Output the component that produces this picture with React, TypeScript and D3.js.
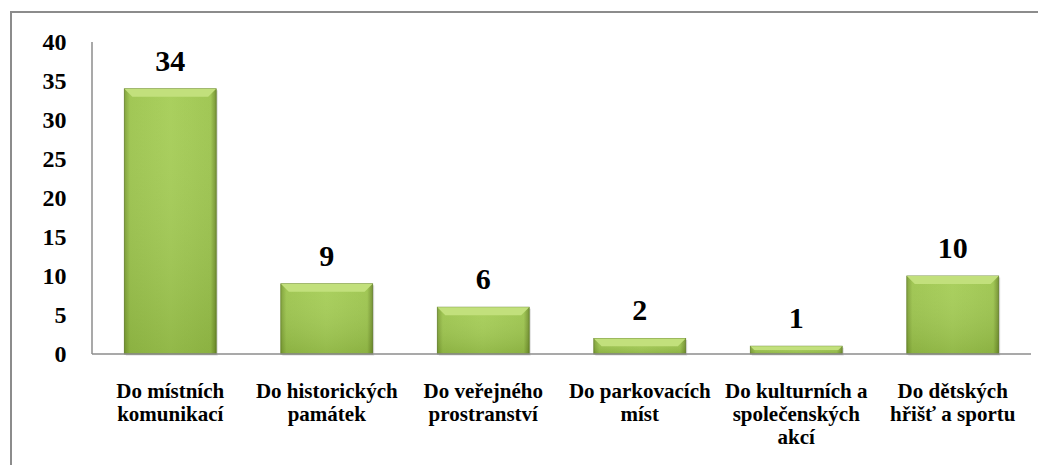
import React from 'react';
import * as d3 from 'd3';

const categories: string[][] = [
  ['Do místních', 'komunikací'],
  ['Do historických', 'památek'],
  ['Do veřejného', 'prostranství'],
  ['Do parkovacích', 'míst'],
  ['Do kulturních a', 'společenských', 'akcí'],
  ['Do dětských', 'hřišť a sportu'],
];
const values: number[] = [34, 9, 6, 2, 1, 10];
const yTicks: number[] = [0, 5, 10, 15, 20, 25, 30, 35, 40];

const W = 1046;
const H = 473;
const left = 92, right = 1031, top = 42, bottom = 354;
const font = 'Liberation Serif';

const x = d3.scaleBand<number>()
  .domain(d3.range(values.length))
  .range([left, right])
  .paddingInner(0.413)
  .paddingOuter(0.2065);
const y = d3.scaleLinear().domain([0, 40]).range([bottom, top]);
const bw = x.bandwidth();

const txt = { fontFamily: font, fontWeight: 'bold' as const };

const App = () => (
  <svg width={W} height={H} style={{ display: 'block', margin: '-8px' }}>
    <defs>
      <linearGradient id="barGrad" x1="0" x2="1" y1="0" y2="0">
        <stop offset="0%" stopColor="#7d9f34" />
        <stop offset="6%" stopColor="#9cc44c" />
        <stop offset="50%" stopColor="#a5cd55" />
        <stop offset="94%" stopColor="#9cc44c" />
        <stop offset="100%" stopColor="#718f2c" />
      </linearGradient>
      <linearGradient id="barShade" x1="0" x2="0" y1="0" y2="1">
        <stop offset="0%" stopColor="#fff" stopOpacity={0.05} />
        <stop offset="100%" stopColor="#3d5a10" stopOpacity={0.18} />
      </linearGradient>
    </defs>

    {/* outer frame, cropped on right and bottom */}
    <rect x={11} y={12} width={1040} height={470} fill="#fff" stroke="#8c8c8c" strokeWidth={2} />

    <line x1={left} x2={left} y1={top} y2={bottom} stroke="#8c8c8c" strokeWidth={1.5} />
    {yTicks.map(t => (
      <text key={t} x={66.5} y={y(t)} dy="0.35em" textAnchor="end" fontSize={24} fill="#000" style={txt}>
        {t}
      </text>
    ))}

    {values.map((v, i) => {
      const bx = x(i) as number;
      const by = y(v);
      const h = bottom - by;
      const b = Math.min(8, h / 2);
      return (
        <g key={i} transform={`translate(${bx},${by})`}>
          <rect x={1.5} y={1.5} width={bw} height={h} fill="#000" opacity={0.15} />
          <rect width={bw} height={h} fill="url(#barGrad)" stroke="#5f7d24" strokeWidth={0.8} />
          <rect width={bw} height={h} fill="url(#barShade)" />
          <path d={`M0,0 L${bw},0 L${bw - b},${b} L${b},${b} Z`} fill="#c2e07c" />
          <text x={bw / 2} y={-18} textAnchor="middle" fontSize={30} fill="#000" style={txt}>
            {v}
          </text>
        </g>
      );
    })}

    <line x1={left} x2={right} y1={bottom} y2={bottom} stroke="#8c8c8c" strokeWidth={1.5} />

    {categories.map((lines, i) => {
      const cx = (x(i) as number) + bw / 2;
      return (
        <text key={i} x={cx} y={398} textAnchor="middle" fontSize={21} fill="#000" style={txt}>
          {lines.map((l, j) => (
            <tspan key={j} x={cx} dy={j === 0 ? 0 : 23}>{l}</tspan>
          ))}
        </text>
      );
    })}
  </svg>
);

export default App;
